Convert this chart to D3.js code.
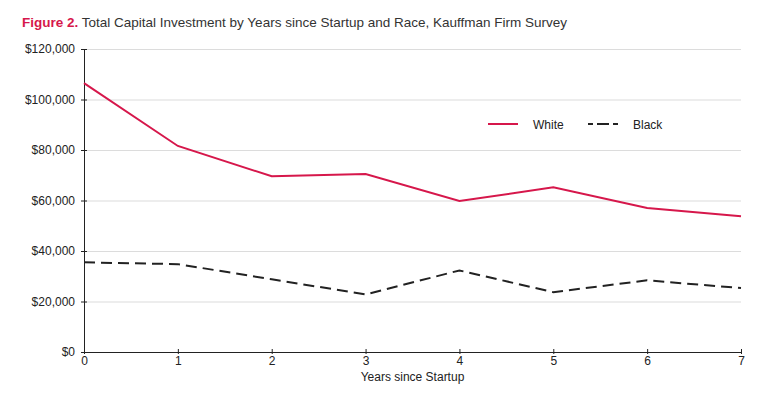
<html>
  <head>
    <script src="https://d3js.org/d3.v7.min.js"></script>
    <style>
      body { margin: 0; background: white; }
      text { font-family: "Liberation Sans", Arial, sans-serif; }
      .grid line { stroke: #dcdcdc; stroke-width: 1.2; }
      .grid .domain { display: none; }
    </style>
  </head>
  <body>
    <script type="text/javascript">
      // input data
      var years = [0, 1, 2, 3, 4, 5, 6, 7];
      var whiteValues = [106500, 81600, 69600, 70500, 59800, 65200, 57000, 53800];
      var blackValues = [35500, 34800, 28800, 22800, 32300, 23700, 28400, 25300];
      var yTicks = [0, 20000, 40000, 60000, 80000, 100000, 120000];

      var width = 773;
      var height = 406;
      var plotLeft = 84, plotRight = 741, plotTop = 49, plotBottom = 352;
      var red = "#d6174b";

      var svg = d3.select("body").append("svg")
        .attr("width", width)
        .attr("height", height);

      // title
      var title = svg.append("text")
        .attr("x", 22)
        .attr("y", 27)
        .attr("font-size", "13.5px");
      title.append("tspan").attr("fill", red).attr("font-weight", "bold").text("Figure 2.");
      title.append("tspan").attr("fill", "#333").text(" Total Capital Investment by Years since Startup and Race, Kauffman Firm Survey");

      var x = d3.scaleLinear().domain([0, 7]).range([plotLeft, plotRight]);
      var y = d3.scaleLinear().domain([0, 120000]).range([plotBottom, plotTop]);

      // gridlines
      svg.append("g")
        .attr("class", "grid")
        .attr("transform", "translate(" + plotLeft + ",0)")
        .call(d3.axisRight(y).tickValues(yTicks.slice(1)).tickFormat("").tickSize(plotRight - plotLeft));

      // y axis
      var yAxis = svg.append("g")
        .attr("transform", "translate(" + plotLeft + ",0)")
        .call(d3.axisLeft(y).tickValues(yTicks).tickSize(3).tickSizeOuter(0)
          .tickFormat(d => "$" + d3.format(",")(d)));
      yAxis.select(".domain").attr("stroke", "#222");
      yAxis.selectAll(".tick line").attr("x1", -3).attr("x2", 3).attr("stroke", "#222");
      yAxis.selectAll(".tick text").attr("x", -9).attr("font-size", "12px").attr("fill", "#222")
        .attr("font-family", "'Liberation Sans', Arial, sans-serif");

      // x axis
      var xAxis = svg.append("g")
        .attr("transform", "translate(0," + plotBottom + ")")
        .call(d3.axisBottom(x).tickValues(years).tickSize(3).tickSizeOuter(0).tickFormat(d3.format("d")));
      xAxis.select(".domain").attr("stroke", "#222");
      xAxis.selectAll(".tick line").attr("y1", -3).attr("y2", 2).attr("stroke", "#222");
      xAxis.selectAll(".tick text").attr("y", 4).attr("font-size", "12px").attr("fill", "#222")
        .attr("font-family", "'Liberation Sans', Arial, sans-serif");

      svg.append("text")
        .attr("x", (plotLeft + plotRight) / 2)
        .attr("y", 381)
        .attr("text-anchor", "middle")
        .attr("font-size", "12px")
        .attr("fill", "#222")
        .text("Years since Startup");

      // lines
      var line = d3.line()
        .x((d, i) => x(years[i]))
        .y(d => y(d));

      svg.append("path")
        .datum(whiteValues)
        .attr("fill", "none")
        .attr("stroke", red)
        .attr("stroke-width", 2)
        .attr("d", line);

      svg.append("path")
        .datum(blackValues)
        .attr("fill", "none")
        .attr("stroke", "#222")
        .attr("stroke-width", 2)
        .attr("stroke-dasharray", "11,6")
        .attr("d", line);

      // legend
      var legend = svg.append("g");
      legend.append("line")
        .attr("x1", 488).attr("x2", 518).attr("y1", 124).attr("y2", 124)
        .attr("stroke", red).attr("stroke-width", 2);
      legend.append("text")
        .attr("x", 533).attr("y", 129).attr("font-size", "12px").attr("fill", "#222")
        .text("White");
      legend.append("line")
        .attr("x1", 588).attr("x2", 618).attr("y1", 124).attr("y2", 124)
        .attr("stroke", "#222").attr("stroke-width", 2)
        .attr("stroke-dasharray", "5,4,12,4,5");
      legend.append("text")
        .attr("x", 633).attr("y", 129).attr("font-size", "12px").attr("fill", "#222")
        .text("Black");
    </script>
  </body>
</html>
